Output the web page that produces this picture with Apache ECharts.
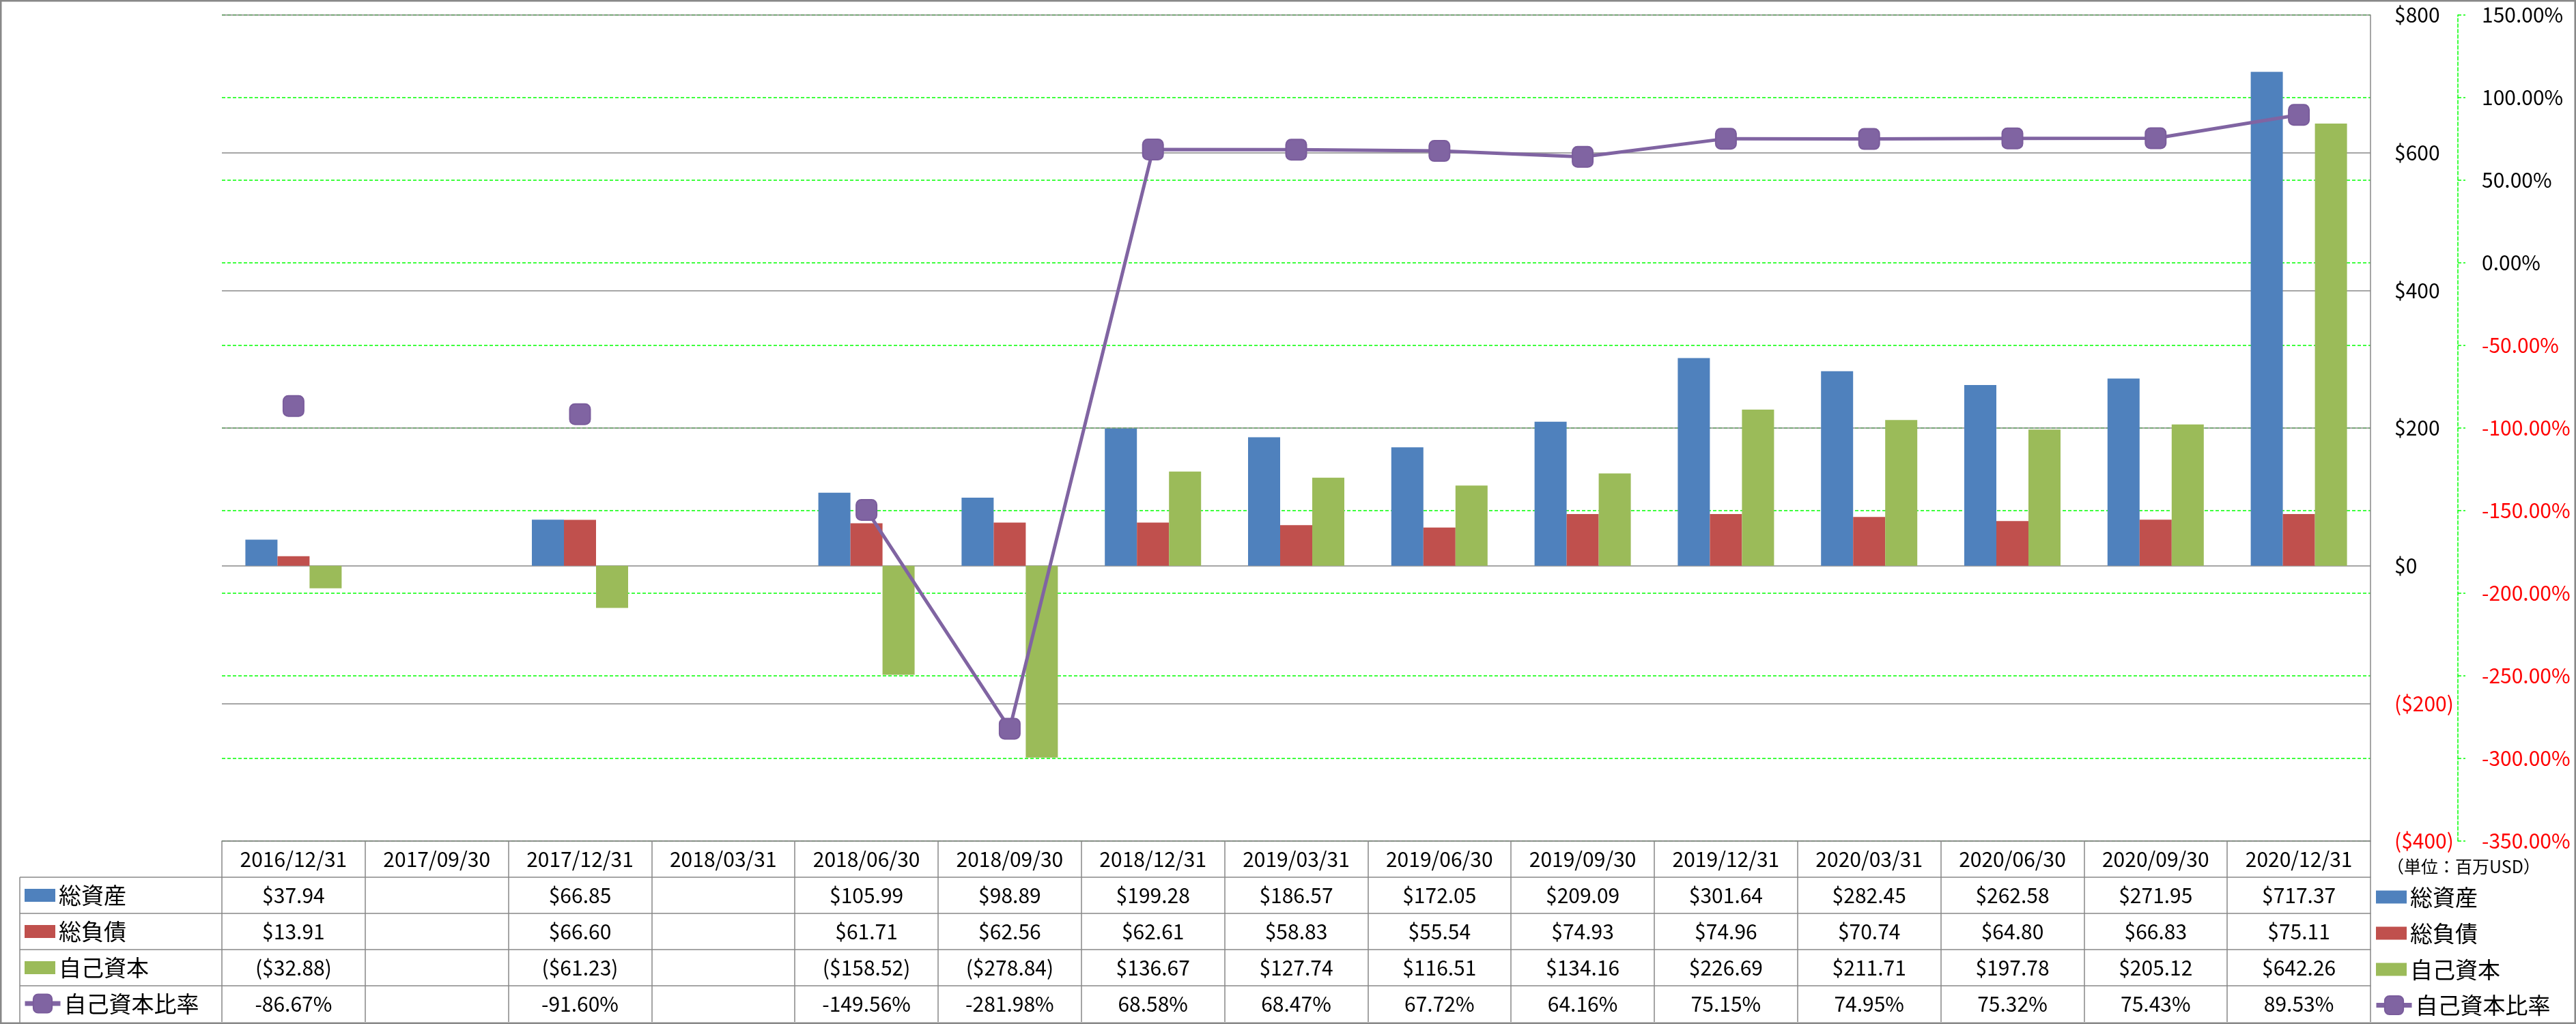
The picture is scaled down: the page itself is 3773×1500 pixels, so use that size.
<!DOCTYPE html>
<html>
<head>
<meta charset="utf-8">
<title>総資産・総負債・自己資本</title>
<script src="https://cdn.jsdelivr.net/npm/echarts@6/dist/echarts.min.js"></script>
<style>
  html, body { margin: 0; padding: 0; background: #fff; }
  #chart { width: 3773px; height: 1500px; }
</style>
</head>
<body>
<div id="chart"></div>
<script>
// 期末日
const periods = [
  '2016/12/31', '2017/09/30', '2017/12/31', '2018/03/31', '2018/06/30',
  '2018/09/30', '2018/12/31', '2019/03/31', '2019/06/30', '2019/09/30',
  '2019/12/31', '2020/03/31', '2020/06/30', '2020/09/30', '2020/12/31',
]
// 百万USD
const totalAssets = [37.94, null, 66.85, null, 105.99, 98.89, 199.28, 186.57, 172.05, 209.09, 301.64, 282.45, 262.58, 271.95, 717.37]
const totalLiabilities = [13.91, null, 66.60, null, 61.71, 62.56, 62.61, 58.83, 55.54, 74.93, 74.96, 70.74, 64.80, 66.83, 75.11]
const equity = [-32.88, null, -61.23, null, -158.52, -278.84, 136.67, 127.74, 116.51, 134.16, 226.69, 211.71, 197.78, 205.12, 642.26]
// %
const equityRatio = [-86.67, null, -91.60, null, -149.56, -281.98, 68.58, 68.47, 67.72, 64.16, 75.15, 74.95, 75.32, 75.43, 89.53]

const names = ['総資産', '総負債', '自己資本', '自己資本比率']
const unitNote = '（単位：百万USD）'

const COLORS = ['#4F81BD', '#C0504D', '#9BBB59', '#8064A2']
const FONT = '"Noto Sans CJK JP", "Noto Sans", sans-serif'
const GRID_LINE = '#888888'
const GREEN = '#00FF00'

// layout
const W = 3773
const H = 1500
const PLOT_LEFT = 325
const PLOT_RIGHT = 3472
const PLOT_TOP = 22
const PLOT_BOTTOM = 1232
const ROW_H = 53
const TABLE_LEFT = 29

const fmtMoney = (v) => {
  if (v === null || v === undefined) return ''
  const s = '$' + Math.abs(v).toFixed(2)
  return v < 0 ? `(${s})` : s
}
const fmtPct = (v) => (v === null || v === undefined ? '' : v.toFixed(2) + '%')

const tableRows = [
  (i) => fmtMoney(totalAssets[i]),
  (i) => fmtMoney(totalLiabilities[i]),
  (i) => fmtMoney(equity[i]),
  (i) => fmtPct(equityRatio[i]),
]

const tableAxis = (offset, formatter) => ({
  type: 'category',
  gridIndex: 0,
  position: 'bottom',
  offset,
  data: periods,
  boundaryGap: true,
  axisLine: { show: true, onZero: false, lineStyle: { color: GRID_LINE, width: 1.5 } },
  axisTick: { show: true, interval: 0, length: ROW_H, lineStyle: { color: GRID_LINE, width: 1.5 } },
  axisLabel: {
    interval: 0,
    margin: ROW_H / 2,
    verticalAlign: 'middle',
    color: '#000',
    fontFamily: FONT,
    fontSize: 30,
    formatter,
  },
  splitLine: { show: false },
})

const xAxes = [
  tableAxis(0, (v) => v),
  ...tableRows.map((f, k) => tableAxis(ROW_H * (k + 1), (v, i) => f(i))),
]

const legendText = { color: '#000', fontFamily: FONT, fontSize: 33, lineHeight: 33 }

const barLegend = (left, top) => ({
  orient: 'vertical',
  left,
  top,
  padding: 0,
  itemWidth: 45,
  itemHeight: 19,
  itemGap: ROW_H - 33,
  selectedMode: false,
  icon: 'rect',
  data: names.slice(0, 3),
  textStyle: legendText,
})

const lineLegend = (left, top) => ({
  orient: 'vertical',
  left,
  top,
  padding: 0,
  itemWidth: 52,
  itemHeight: 34,
  selectedMode: false,
  data: [names[3]],
  lineStyle: { width: 7 },
  textStyle: legendText,
})

const rowMid = (k) => PLOT_BOTTOM + ROW_H * k + ROW_H / 2

const tableLines = []
for (let k = 1; k <= 4; k++) {
  const y = PLOT_BOTTOM + ROW_H * k
  tableLines.push({
    type: 'line',
    shape: { x1: TABLE_LEFT, y1: y, x2: PLOT_LEFT, y2: y },
    style: { stroke: GRID_LINE, lineWidth: 1.5 },
  })
}
tableLines.push({
  type: 'line',
  shape: { x1: TABLE_LEFT, y1: PLOT_BOTTOM + ROW_H, x2: TABLE_LEFT, y2: H },
  style: { stroke: GRID_LINE, lineWidth: 1.5 },
})

const chart = echarts.init(document.getElementById('chart'), null, { renderer: 'canvas' })

chart.setOption({
  animation: false,
  backgroundColor: '#fff',
  textStyle: { fontFamily: FONT },
  title: {
    text: unitNote,
    left: 3496,
    top: 1257,
    padding: 0,
    textStyle: { color: '#000', fontFamily: FONT, fontSize: 25, fontWeight: 'normal' },
  },
  legend: [
    barLegend(36, rowMid(1) - 16.5),
    lineLegend(33, rowMid(4) - 17),
    barLegend(3480, rowMid(1) - 14),
    lineLegend(3477, rowMid(4) - 14.5),
  ],
  grid: {
    left: PLOT_LEFT,
    right: W - PLOT_RIGHT,
    top: PLOT_TOP,
    bottom: H - PLOT_BOTTOM,
    containLabel: false,
    outerBoundsMode: 'none',
  },
  xAxis: xAxes,
  yAxis: [
    {
      type: 'value',
      position: 'right',
      z: 1,
      min: -400,
      max: 800,
      interval: 200,
      axisLine: { show: true, lineStyle: { color: GRID_LINE, width: 1.5 } },
      axisTick: { show: false },
      axisLabel: {
        margin: 35,
        fontFamily: FONT,
        fontSize: 30,
        color: (v) => (Number(v) < 0 ? '#FF0000' : '#000'),
        formatter: (v) => (v < 0 ? `($${Math.abs(v)})` : `$${v}`),
      },
      splitLine: { show: true, lineStyle: { color: GRID_LINE, width: 1.5 } },
    },
    {
      type: 'value',
      position: 'right',
      z: 0,
      offset: 128,
      min: -350,
      max: 150,
      interval: 50,
      axisLine: { show: true, lineStyle: { color: GREEN, width: 1.5, type: [5, 3] } },
      axisTick: { show: true, length: 11, lineStyle: { color: GREEN, width: 1.5, type: [5, 3] } },
      axisLabel: {
        margin: 35,
        fontFamily: FONT,
        fontSize: 30,
        color: (v) => (Number(v) < 0 ? '#FF0000' : '#000'),
        formatter: (v) => v.toFixed(2) + '%',
      },
      splitLine: { show: true, lineStyle: { color: GREEN, width: 1.5, type: [5, 3] } },
    },
  ],
  series: [
    {
      name: names[0],
      type: 'bar',
      yAxisIndex: 0,
      data: totalAssets,
      barWidth: 47,
      barGap: '0%',
      itemStyle: { color: COLORS[0] },
    },
    {
      name: names[1],
      type: 'bar',
      yAxisIndex: 0,
      data: totalLiabilities,
      barWidth: 47,
      barGap: '0%',
      itemStyle: { color: COLORS[1] },
    },
    {
      name: names[2],
      type: 'bar',
      yAxisIndex: 0,
      data: equity,
      barWidth: 47,
      barGap: '0%',
      itemStyle: { color: COLORS[2] },
    },
    {
      name: names[3],
      type: 'line',
      yAxisIndex: 1,
      data: equityRatio,
      connectNulls: false,
      symbol: 'roundRect',
      symbolSize: 30,
      showAllSymbol: true,
      z: 10,
      lineStyle: { color: COLORS[3], width: 5 },
      itemStyle: { color: COLORS[3], borderColor: '#7A5C9C', borderWidth: 2 },
    },
  ],
  graphic: [
    ...tableLines,
    {
      type: 'rect',
      shape: { x: 1, y: 1, width: W - 2, height: H - 2 },
      style: { fill: null, stroke: GRID_LINE, lineWidth: 3 },
      silent: true,
    },
  ],
})
</script>
</body>
</html>
